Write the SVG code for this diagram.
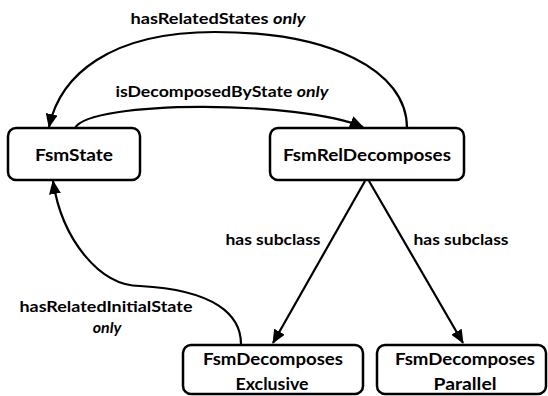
<svg xmlns="http://www.w3.org/2000/svg" width="548" height="396" viewBox="0 0 548 396">
<style>
.box{fill:#fff;stroke:#000;stroke-width:2.5}
.nt{font-family:Lato,"Open Sans","Liberation Sans",sans-serif;font-weight:bold;font-size:17px;text-anchor:middle;fill:#000}
.lb{font-family:Lato,"Open Sans","Liberation Sans",sans-serif;font-weight:bold;font-size:16px;text-anchor:middle;fill:#000}
.c{fill:none;stroke:#000;stroke-width:2.2}
</style>
<defs>
<marker id="ah" markerUnits="userSpaceOnUse" markerWidth="14" markerHeight="12" refX="13" refY="6" orient="auto">
<path d="M0,0 L14,6 L0,12 Z" fill="#000"/>
</marker>
</defs>
<g id="connectors">
<path class="c" d="M407,128 C407,70 330,32 215,32 C110,32 60,75 49,127" marker-end="url(#ah)"/>
<path class="c" d="M75,128 C90,100 300,100 363,127" marker-end="url(#ah)"/>
<path class="c" d="M365,181 L273,343" marker-end="url(#ah)"/>
<path class="c" d="M369,181 L463,343" marker-end="url(#ah)"/>
<path class="c" d="M241,344 C241,315 215,290 140,286 C100,286 62,240 53,181" marker-end="url(#ah)"/>
<text class="lb" x="218" y="24" textLength="175" lengthAdjust="spacingAndGlyphs">hasRelatedStates <tspan font-style="italic">only</tspan></text>
<text class="lb" x="222" y="97" textLength="213" lengthAdjust="spacingAndGlyphs">isDecomposedByState <tspan font-style="italic">only</tspan></text>
<text class="lb" x="273" y="245" textLength="95" lengthAdjust="spacingAndGlyphs">has subclass</text>
<text class="lb" x="461" y="245" textLength="95" lengthAdjust="spacingAndGlyphs">has subclass</text>
<text class="lb" x="106" y="312" textLength="173" lengthAdjust="spacingAndGlyphs">hasRelatedInitialState</text>
<text class="lb" x="107" y="333" font-style="italic">only</text>
</g>
<g id="FsmState">
<rect class="box" x="8" y="128" width="132" height="52" rx="8"/>
<text class="nt" x="74" y="161" textLength="78" lengthAdjust="spacingAndGlyphs">FsmState</text>
</g>
<g id="FsmRelDecomposes">
<rect class="box" x="270" y="128" width="194" height="52" rx="8"/>
<text class="nt" x="367" y="161" textLength="168" lengthAdjust="spacingAndGlyphs">FsmRelDecomposes</text>
</g>
<g id="FsmDecomposesExclusive">
<rect class="box" x="183" y="345" width="180" height="49" rx="8"/>
<text class="nt" x="273" y="365" textLength="140" lengthAdjust="spacingAndGlyphs">FsmDecomposes</text>
<text class="nt" x="272" y="390" textLength="73" lengthAdjust="spacingAndGlyphs">Exclusive</text>
</g>
<g id="FsmDecomposesParallel">
<rect class="box" x="377" y="345" width="169" height="49" rx="8"/>
<text class="nt" x="465" y="365" textLength="140" lengthAdjust="spacingAndGlyphs">FsmDecomposes</text>
<text class="nt" x="465" y="390" textLength="63" lengthAdjust="spacingAndGlyphs">Parallel</text>
</g>
</svg>
